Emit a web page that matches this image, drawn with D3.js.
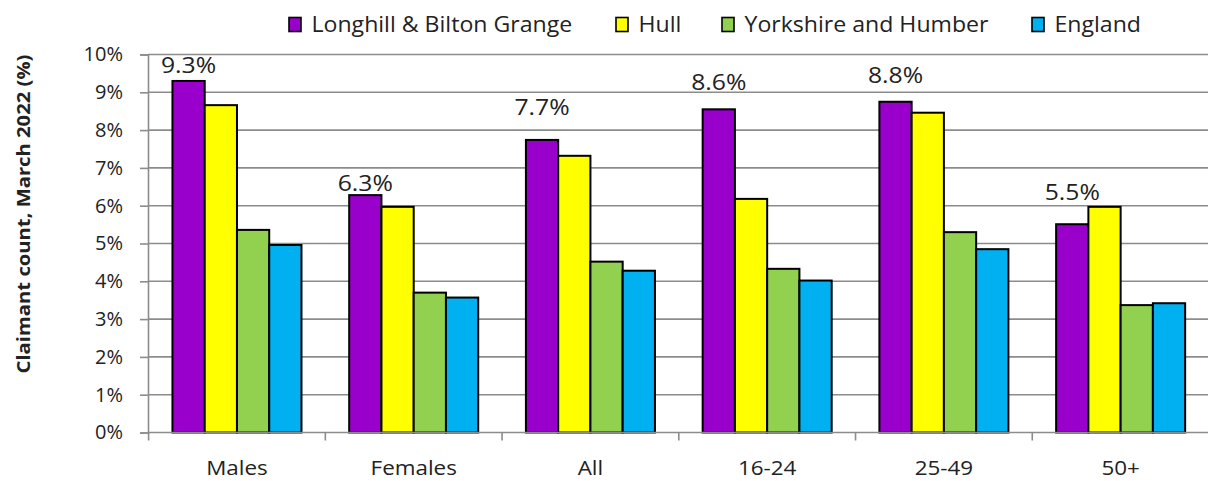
<!DOCTYPE html>
<html>
<head>
<meta charset="utf-8">
<script src="https://cdn.jsdelivr.net/npm/d3@7"></script>
<style>
  body { margin: 0; background: #fff; }
  svg text { font-family: "Open Sans", sans-serif; fill: #222; }
</style>
</head>
<body>
<svg id="chart" width="1208" height="481"></svg>
<script>
// groups along the x axis
var categories = ['Males', 'Females', 'All', '16-24', '25-49', '50+'];
var seriesNames = ['Longhill & Bilton Grange', 'Hull', 'Yorkshire and Humber', 'England'];
var seriesColors = ['#9900cc', '#ffff00', '#92d050', '#00b0f0'];

// claimant rate, %
var longhill = [9.3, 6.28, 7.74, 8.55, 8.75, 5.51];
var hull = [8.66, 5.97, 7.32, 6.18, 8.46, 5.97];
var yorkshire = [5.36, 3.7, 4.52, 4.33, 5.3, 3.37];
var england = [4.96, 3.57, 4.28, 4.02, 4.85, 3.42];

// labels shown on the first series only, with the level (in %) where the label sits
var labelText = ['9.3%', '6.3%', '7.7%', '8.6%', '8.8%', '5.5%'];
var labelLevel = [9.5, 6.38, 8.4, 9.05, 9.25, 6.15];

var yTicks = [0, 1, 2, 3, 4, 5, 6, 7, 8, 9, 10];

var svg = d3.select('#chart');
var values = [longhill, hull, yorkshire, england];

// the source picture is a little wider than its fonts, so text gets stretched sideways
var stretch = 1.15;

var y = d3.scaleLinear().domain([0, 10]).range([432.5, 54.5]);
var x0 = d3.scaleBand().domain(categories).range([148.6, 1209])
  .paddingInner(0.27).paddingOuter(0.135);
var x1 = d3.scaleBand().domain(d3.range(seriesNames.length)).range([0, x0.bandwidth()]);

/* gridlines */
svg.append('g').attr('class', 'grid')
  .selectAll('line')
  .data(yTicks.slice(1))
  .enter().append('line')
  .attr('x1', 148).attr('x2', 1208)
  .attr('y1', function (d) { return y(d); })
  .attr('y2', function (d) { return y(d); })
  .attr('stroke', '#8c8c8c')
  .attr('stroke-width', 1.6);

/* y axis */
var yAxis = svg.append('g')
  .attr('transform', 'translate(148,0)')
  .call(d3.axisLeft(y).tickValues(yTicks).tickSize(8).tickPadding(17)
    .tickFormat(function (d) { return d + '%'; }));
yAxis.select('.domain').attr('stroke', '#8c8c8c').attr('stroke-width', 1.6);
yAxis.selectAll('.tick line').attr('stroke', '#8c8c8c').attr('stroke-width', 1.6);
yAxis.selectAll('.tick text').style('font-size', '20px').style('font-family', '"Open Sans", sans-serif').attr('fill', '#222');

/* bars */
var groups = svg.append('g').selectAll('g.group')
  .data(categories)
  .enter().append('g')
  .attr('class', 'group')
  .attr('transform', function (d) { return 'translate(' + x0(d) + ',0)'; });

groups.selectAll('rect')
  .data(function (d, i) {
    return values.map(function (s, j) { return { series: j, value: s[i] }; });
  })
  .enter().append('rect')
  .attr('x', function (d) { return x1(d.series); })
  .attr('width', x1.bandwidth())
  .attr('y', function (d) { return y(d.value); })
  .attr('height', function (d) { return y(0) - y(d.value); })
  .attr('fill', function (d) { return seriesColors[d.series]; })
  .attr('stroke', '#000')
  .attr('stroke-width', 2);

/* x axis */
svg.append('line')
  .attr('x1', 148).attr('x2', 1208)
  .attr('y1', y(0)).attr('y2', y(0))
  .attr('stroke', '#8c8c8c').attr('stroke-width', 1.6);

var step = x0.step();
var start = x0.range()[0];
svg.append('g').selectAll('line')
  .data(d3.range(categories.length + 1))
  .enter().append('line')
  .attr('x1', function (i) { return start + i * step; })
  .attr('x2', function (i) { return start + i * step; })
  .attr('y1', y(0)).attr('y2', y(0) + 8)
  .attr('stroke', '#8c8c8c').attr('stroke-width', 1.6);

svg.append('g').selectAll('text')
  .data(categories)
  .enter().append('text')
  .attr('transform', function (d) {
    return 'translate(' + (x0(d) + x0.bandwidth() / 2) + ',475) scale(' + stretch + ',1)';
  })
  .attr('text-anchor', 'middle')
  .style('font-size', '19.5px')
  .text(function (d) { return d; });

/* data labels */
svg.append('g').selectAll('text')
  .data(categories)
  .enter().append('text')
  .attr('transform', function (d, i) {
    return 'translate(' + (x0(d) + x1(0) + x1.bandwidth() / 2) + ',' + y(labelLevel[i]) + ') scale(' + stretch + ',1)';
  })
  .attr('text-anchor', 'middle')
  .style('font-size', '21.5px')
  .text(function (d, i) { return labelText[i]; });

/* y axis title */
svg.append('text')
  .attr('transform', 'translate(29.5,214) rotate(-90) scale(1.19,1)')
  .attr('text-anchor', 'middle')
  .style('font-size', '17px')
  .style('font-weight', 'bold')
  .text('Claimant count, March 2022 (%)');

/* legend */
var legendX = [289, 616, 722, 1032];
var legend = svg.append('g').selectAll('g')
  .data(seriesNames)
  .enter().append('g')
  .attr('transform', function (d, i) { return 'translate(' + legendX[i] + ',17.5)'; });
legend.append('rect')
  .attr('width', 12).attr('height', 14)
  .attr('fill', function (d, i) { return seriesColors[i]; })
  .attr('stroke', '#000').attr('stroke-width', 1.6);
legend.append('text')
  .attr('transform', 'translate(22.5,14) scale(' + (stretch - 0.05) + ',1)')
  .style('font-size', '21px')
  .text(function (d) { return d; });
</script>
</body>
</html>
